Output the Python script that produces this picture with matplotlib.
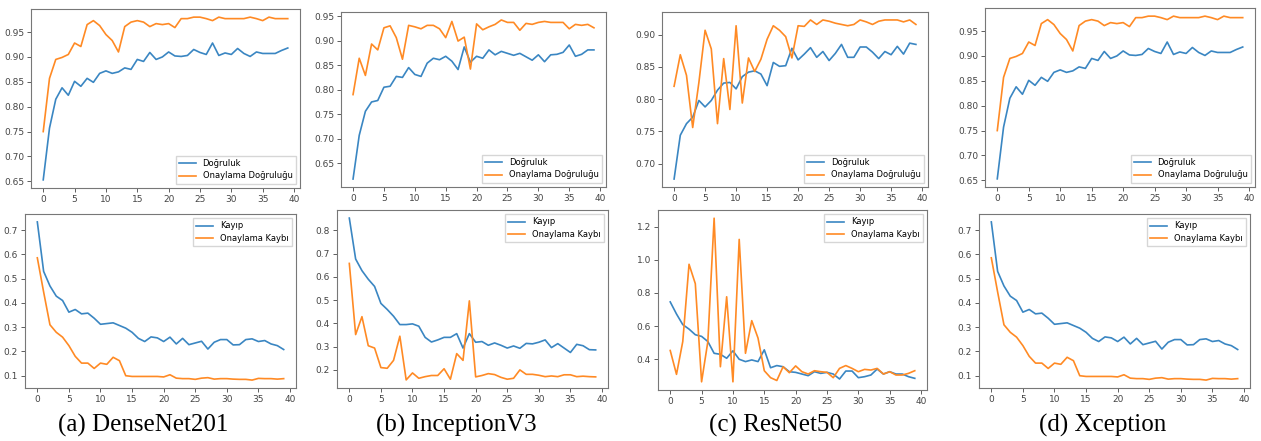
import matplotlib
matplotlib.use("Agg")
import matplotlib.pyplot as plt
import numpy as np

epochs = np.arange(40)

# DenseNet201
dense_acc = [0.653, 0.757, 0.815, 0.838, 0.823, 0.851, 0.841, 0.857, 0.849, 0.867,
             0.872, 0.867, 0.870, 0.878, 0.875, 0.895, 0.891, 0.909, 0.895, 0.900,
             0.910, 0.902, 0.901, 0.903, 0.915, 0.909, 0.905, 0.928, 0.903, 0.908,
             0.905, 0.917, 0.907, 0.901, 0.910, 0.907, 0.907, 0.907, 0.913, 0.918]
dense_val_acc = [0.750, 0.857, 0.895, 0.899, 0.905, 0.928, 0.921, 0.965, 0.973, 0.963,
                 0.945, 0.933, 0.910, 0.961, 0.970, 0.973, 0.970, 0.961, 0.967, 0.965,
                 0.967, 0.959, 0.977, 0.977, 0.980, 0.980, 0.977, 0.973, 0.980, 0.977,
                 0.977, 0.977, 0.977, 0.980, 0.977, 0.973, 0.980, 0.977, 0.977, 0.977]
dense_loss = [0.734, 0.530, 0.470, 0.428, 0.410, 0.362, 0.373, 0.355, 0.358, 0.337,
              0.312, 0.315, 0.318, 0.307, 0.296, 0.279, 0.254, 0.241, 0.260, 0.256,
              0.241, 0.259, 0.231, 0.254, 0.228, 0.235, 0.242, 0.210, 0.238, 0.249,
              0.249, 0.227, 0.228, 0.249, 0.252, 0.241, 0.245, 0.231, 0.224, 0.208]
dense_val_loss = [0.586, 0.445, 0.310, 0.279, 0.259, 0.224, 0.180, 0.152, 0.152, 0.130,
                  0.152, 0.147, 0.176, 0.162, 0.100, 0.097, 0.097, 0.097, 0.097, 0.097,
                  0.095, 0.104, 0.090, 0.088, 0.088, 0.085, 0.090, 0.092, 0.086, 0.088,
                  0.088, 0.086, 0.085, 0.085, 0.082, 0.089, 0.088, 0.088, 0.086, 0.088]

# InceptionV3
incep_acc = [0.618, 0.707, 0.756, 0.775, 0.778, 0.805, 0.807, 0.827, 0.825, 0.845,
             0.831, 0.827, 0.854, 0.864, 0.861, 0.868, 0.858, 0.841, 0.887, 0.856,
             0.868, 0.864, 0.881, 0.871, 0.878, 0.874, 0.870, 0.874, 0.867, 0.860,
             0.871, 0.857, 0.871, 0.872, 0.876, 0.891, 0.868, 0.872, 0.881, 0.881]
incep_val_acc = [0.790, 0.864, 0.829, 0.893, 0.881, 0.926, 0.930, 0.906, 0.862, 0.931,
                 0.928, 0.924, 0.931, 0.931, 0.924, 0.906, 0.939, 0.899, 0.907, 0.842,
                 0.934, 0.922, 0.928, 0.933, 0.942, 0.937, 0.937, 0.921, 0.935, 0.933,
                 0.937, 0.939, 0.937, 0.937, 0.937, 0.924, 0.933, 0.931, 0.933, 0.926]
incep_loss = [0.853, 0.677, 0.627, 0.590, 0.559, 0.486, 0.460, 0.431, 0.395, 0.395,
              0.398, 0.388, 0.340, 0.320, 0.329, 0.340, 0.340, 0.356, 0.294, 0.356,
              0.319, 0.322, 0.306, 0.316, 0.306, 0.294, 0.303, 0.293, 0.314, 0.312,
              0.319, 0.329, 0.296, 0.313, 0.294, 0.275, 0.310, 0.304, 0.287, 0.286]
incep_val_loss = [0.658, 0.352, 0.429, 0.304, 0.294, 0.210, 0.207, 0.241, 0.345, 0.157,
                  0.187, 0.164, 0.171, 0.176, 0.176, 0.205, 0.160, 0.270, 0.241, 0.497,
                  0.170, 0.176, 0.184, 0.180, 0.168, 0.160, 0.164, 0.200, 0.181, 0.181,
                  0.177, 0.171, 0.174, 0.171, 0.179, 0.179, 0.171, 0.173, 0.171, 0.170]

# ResNet50
res_acc = [0.676, 0.744, 0.762, 0.772, 0.798, 0.788, 0.798, 0.814, 0.825, 0.826,
           0.816, 0.835, 0.842, 0.844, 0.839, 0.821, 0.857, 0.851, 0.852, 0.879,
           0.861, 0.870, 0.880, 0.865, 0.874, 0.860, 0.871, 0.885, 0.865, 0.865,
           0.881, 0.881, 0.873, 0.863, 0.874, 0.869, 0.882, 0.870, 0.887, 0.885]
res_val_acc = [0.820, 0.869, 0.837, 0.756, 0.826, 0.907, 0.878, 0.762, 0.863, 0.784,
               0.914, 0.794, 0.864, 0.843, 0.862, 0.893, 0.914, 0.907, 0.897, 0.864,
               0.914, 0.913, 0.923, 0.916, 0.923, 0.921, 0.918, 0.916, 0.914, 0.916,
               0.923, 0.920, 0.916, 0.921, 0.923, 0.923, 0.923, 0.920, 0.923, 0.916]
res_loss = [0.746, 0.673, 0.609, 0.582, 0.548, 0.538, 0.507, 0.436, 0.430, 0.406,
            0.451, 0.400, 0.386, 0.396, 0.386, 0.457, 0.349, 0.362, 0.355, 0.325,
            0.321, 0.311, 0.301, 0.325, 0.315, 0.321, 0.311, 0.281, 0.329, 0.329,
            0.289, 0.295, 0.305, 0.341, 0.311, 0.325, 0.311, 0.311, 0.295, 0.285]
res_val_loss = [0.453, 0.309, 0.507, 0.973, 0.856, 0.264, 0.507, 1.251, 0.355, 0.777,
                0.264, 1.123, 0.436, 0.633, 0.528, 0.331, 0.289, 0.272, 0.355, 0.319,
                0.360, 0.325, 0.311, 0.331, 0.325, 0.321, 0.289, 0.345, 0.362, 0.345,
                0.325, 0.339, 0.335, 0.345, 0.311, 0.325, 0.305, 0.305, 0.315, 0.331]

# Xception (same curves as DenseNet201 in the source figure)
xcep_acc = list(dense_acc)
xcep_val_acc = list(dense_val_acc)
xcep_loss = list(dense_loss)
xcep_val_loss = list(dense_val_loss)

captions = ["(a) DenseNet201", "(b) InceptionV3", "(c) ResNet50", "(d) Xception"]
acc_labels = ["Doğruluk", "Onaylama Doğruluğu"]
loss_labels = ["Kayıp", "Onaylama Kaybı"]

models = [
    (dense_acc, dense_val_acc, dense_loss, dense_val_loss),
    (incep_acc, incep_val_acc, incep_loss, incep_val_loss),
    (res_acc, res_val_acc, res_loss, res_val_loss),
    (xcep_acc, xcep_val_acc, xcep_loss, xcep_val_loss),
]

W, H = 1261, 441
# axes boxes in pixels: (left, top, right, bottom)
top_boxes = [(31, 9, 300, 188), (341, 12, 606, 187), (662, 12, 928, 187), (985, 8, 1255, 187)]
bot_boxes = [(25, 214, 296, 388), (337, 210, 608, 388), (658, 210, 927, 390), (979, 214, 1250, 388)]
caption_x = [143, 456, 775, 1103]


def px_axes(fig, box):
    l, t, r, b = box
    return fig.add_axes([l / W, 1 - b / H, (r - l) / W, (b - t) / H])


def style(ax):
    for s in ax.spines.values():
        s.set_color("#777777")
        s.set_linewidth(0.8)
    ax.tick_params(labelsize=6.5, colors="#444444", length=3, width=0.6, pad=2)


fig = plt.figure(figsize=(W / 100, H / 100), dpi=100)

for i, (acc, vacc, loss, vloss) in enumerate(models):
    ax = px_axes(fig, top_boxes[i])
    ax.plot(epochs, acc, color="#3a86c2", lw=1.2, label=acc_labels[0])
    ax.plot(epochs, vacc, color="#ff8a24", lw=1.2, label=acc_labels[1])
    ax.set_xticks(range(0, 41, 5))
    style(ax)
    ax.legend(loc="lower right", fontsize=6, handlelength=2, borderpad=0.4,
              labelspacing=0.4, frameon=True, edgecolor="#cccccc", fancybox=False)

    ax2 = px_axes(fig, bot_boxes[i])
    ax2.plot(epochs, loss, color="#3a86c2", lw=1.2, label=loss_labels[0])
    ax2.plot(epochs, vloss, color="#ff8a24", lw=1.2, label=loss_labels[1])
    ax2.set_xticks(range(0, 41, 5))
    style(ax2)
    ax2.legend(loc="upper right", fontsize=6, handlelength=2, borderpad=0.4,
               labelspacing=0.4, frameon=True, edgecolor="#cccccc", fancybox=False)

    fig.text(caption_x[i] / W, 1 - 425 / H, captions[i], ha="center", va="center",
             fontsize=18, family="Liberation Serif")

fig.savefig("out.png", dpi=100)
